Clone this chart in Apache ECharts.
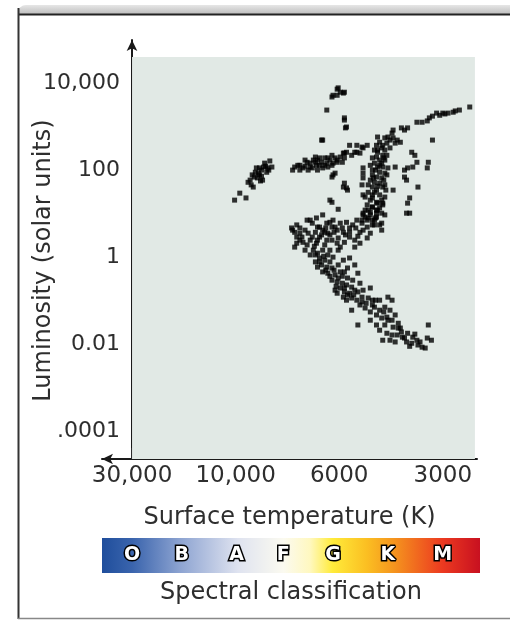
<!DOCTYPE html>
<html>
<head>
<meta charset="utf-8">
<title>Hertzsprung-Russell diagram</title>
<script src="https://cdn.jsdelivr.net/npm/echarts@6/dist/echarts.min.js"></script>
<style>
  html, body { margin: 0; padding: 0; background: #fff; }
  #chart { width: 510px; height: 623px; }
</style>
</head>
<body>
<div id="chart"></div>
<script>
// x = position on the drawing's temperature scale (0 = 30,000 K, 1 = 10,000 K, 2 = 6000 K, 3 = 3000 K)
// y = log10 of luminosity (solar units)
const tempTicks = [0, 1, 2, 3]
const tempLabels = ['30,000', '10,000', '6000', '3000']
const lumTicks = [-4, -2, 0, 2, 4]
const lumLabels = ['.0001', '0.01', '1', '100', '10,000']
const spectralClasses = ['O', 'B', 'A', 'F', 'G', 'K', 'M']
const spectralPos = [0, 0.48, 1.01, 1.46, 1.94, 2.47, 3.0]

const supergiants = [
  [1.93, 3.68], [1.94, 3.72], [1.98, 3.72], [1.99, 3.89], [2.01, 3.79], [2.04, 3.77],
  [2.05, 3.79], [1.98, 3.86], [1.88, 3.38], [2.05, 3.20], [2.06, 2.97], [1.84, 2.69]
]

const brightGiants = [
  [3.26, 3.45], [3.16, 3.38], [3.10, 3.33], [3.05, 3.31], [3.00, 3.31], [2.97, 3.26],
  [2.94, 3.31], [2.90, 3.24], [2.87, 3.20], [2.85, 3.13], [2.80, 3.10], [2.75, 3.10],
  [2.66, 2.97], [2.63, 2.92], [2.60, 2.97], [2.52, 2.92], [2.51, 2.85], [2.90, 2.69],
  [3.12, 3.36], [3.02, 3.29]
]

const hotStars = [
  [0.99, 1.31], [1.04, 1.47], [1.10, 1.36], [1.12, 1.72], [1.15, 1.66], [1.17, 1.61],
  [1.16, 1.89], [1.19, 1.95], [1.22, 1.93], [1.21, 1.82], [1.23, 1.89], [1.25, 2.00],
  [1.23, 2.05], [1.27, 2.07], [1.30, 1.95], [1.31, 2.05], [1.33, 2.21], [1.35, 2.07],
  [1.28, 2.16], [1.24, 1.75], [1.26, 1.77], [1.18, 1.84], [1.20, 2.05], [1.25, 1.86],
  [1.14, 1.77], [1.29, 2.09], [1.32, 2.00]
]

const horizontalBranch = [
  [1.57, 2.07], [1.62, 2.00], [1.65, 2.05], [1.69, 2.18], [1.72, 2.16], [1.74, 2.05],
  [1.77, 2.30], [1.78, 2.11], [1.79, 2.23], [1.83, 2.18], [1.84, 2.05], [1.88, 2.16],
  [1.89, 2.28], [1.91, 2.23], [1.93, 2.34], [1.94, 2.16], [1.96, 1.93], [1.98, 2.23],
  [2.01, 2.30], [2.03, 2.18], [2.04, 2.39], [2.07, 2.41], [2.10, 2.57], [2.12, 2.34],
  [2.17, 2.41], [2.20, 2.39], [2.22, 2.53], [1.83, 2.69], [2.07, 2.99], [2.05, 3.15],
  [1.91, 1.31], [1.99, 1.10], [2.05, 1.70], [2.07, 1.59], [1.93, 1.84], [1.94, 1.89],
  [2.15, 2.41], [2.23, 2.51], [2.27, 2.57], [2.05, 2.39], [1.98, 2.18], [1.93, 2.11],
  [2.23, 2.05], [2.23, 1.93], [2.22, 1.66], [2.23, 1.43], [1.60, 2.11], [1.67, 2.09],
  [1.75, 2.23], [1.81, 2.11], [1.86, 2.28], [1.70, 2.00], [1.55, 2.00], [1.89, 2.07],
  [1.79, 2.00], [2.17, 2.57], [1.62, 2.11], [1.72, 2.07], [1.77, 2.18], [1.86, 2.11],
  [1.96, 2.28], [2.05, 2.28], [1.67, 2.23], [1.81, 2.28]
]

const redGiants = [
  [2.44, 2.74], [2.47, 2.76], [2.52, 2.74], [2.56, 2.69], [2.59, 2.64], [2.39, 2.64],
  [2.36, 2.57], [2.42, 2.57], [2.46, 2.62], [2.41, 2.51], [2.37, 2.41], [2.44, 2.46],
  [2.42, 2.34], [2.36, 2.30], [2.39, 2.23], [2.44, 2.23], [2.34, 2.16], [2.37, 2.07],
  [2.42, 2.07], [2.47, 2.05], [2.32, 2.00], [2.39, 1.95], [2.44, 1.93], [2.32, 1.89],
  [2.36, 1.84], [2.41, 1.82], [2.30, 1.77], [2.34, 1.72], [2.39, 1.70], [2.42, 1.61],
  [2.32, 1.61], [2.36, 1.54], [2.28, 1.49], [2.32, 1.43], [2.39, 1.43], [2.44, 1.38],
  [2.30, 1.31], [2.36, 1.26], [2.27, 1.20], [2.32, 1.15], [2.39, 1.13], [2.30, 1.03],
  [2.23, 1.01], [2.36, 1.01], [2.28, 0.90], [2.22, 0.85], [2.32, 0.85], [2.41, 0.78],
  [2.49, 2.69], [2.54, 2.62], [2.34, 2.46], [2.46, 2.34], [2.32, 2.28], [2.41, 2.16],
  [2.30, 2.11], [2.46, 1.89], [2.28, 1.66], [2.44, 1.66], [2.34, 1.49], [2.25, 1.38],
  [2.42, 1.24], [2.37, 1.08], [2.25, 1.08], [2.34, 0.74], [2.44, 0.97], [2.49, 2.51],
  [2.37, 2.76], [2.37, 2.46], [2.43, 2.28], [2.35, 2.00], [2.43, 1.77], [2.37, 1.63],
  [2.32, 1.36], [2.41, 1.31], [2.35, 0.90], [2.28, 1.08], [2.45, 1.54], [2.39, 2.11],
  [2.33, 1.82]
]

const coolGiants = [
  [2.70, 2.41], [2.73, 2.34], [2.75, 2.18], [2.66, 2.05], [2.65, 1.77], [2.86, 2.18],
  [2.85, 2.05], [2.76, 1.61], [2.68, 1.36], [2.66, 1.24], [2.68, 1.01], [2.54, 2.07],
  [2.52, 1.54], [2.63, 2.00], [2.71, 2.07], [2.63, 1.84], [2.65, 1.01]
]

const mainSequence = [
  [1.54, 0.67], [1.57, 0.57], [1.59, 0.32], [1.57, 0.23], [1.64, 0.46], [1.65, 0.34],
  [1.69, 0.28], [1.70, 0.55], [1.74, 0.46], [1.72, 0.85], [1.78, 0.90], [1.77, 0.57],
  [1.79, 0.69], [1.81, 0.46], [1.84, 0.62], [1.88, 0.78], [1.89, 0.55], [1.93, 0.69],
  [1.94, 0.85], [1.98, 0.62], [2.01, 0.78], [2.04, 0.57], [2.07, 0.80], [2.10, 0.67],
  [2.13, 0.74], [2.17, 0.85], [2.20, 0.57], [2.22, 0.78], [2.25, 0.92], [2.27, 0.69],
  [2.30, 0.97], [2.32, 1.15], [2.36, 1.08], [2.39, 0.74], [2.34, 0.85], [2.37, 1.24],
  [2.42, 1.20], [2.41, 1.01], [1.93, 1.26], [1.55, 0.62], [1.59, 0.74], [1.62, 0.55],
  [1.69, 0.85], [1.74, 0.78], [1.81, 0.69], [1.86, 0.57], [1.91, 0.80], [1.96, 0.69],
  [2.23, 0.97], [2.36, 0.92], [2.41, 0.62], [1.84, 0.97], [2.04, 1.61], [2.08, 1.54],
  [2.23, 1.82],
  [2.05, 0.34], [2.10, 0.46], [2.15, 0.39], [1.98, 0.32], [1.93, 0.39], [1.86, 0.28],
  [1.78, 0.32], [1.75, 0.16], [1.79, 0.09], [1.84, 0.16], [1.81, -0.02], [1.86, -0.07],
  [1.89, 0.05], [1.94, 0.00], [1.83, -0.18], [1.88, -0.23], [1.93, -0.25], [1.84, -0.34],
  [1.89, -0.37], [1.96, -0.41], [2.01, -0.34], [2.05, -0.34], [2.10, -0.02], [2.18, -0.37],
  [2.08, -0.48], [2.13, -0.53], [1.93, -0.53], [1.98, -0.57], [2.03, -0.60], [2.07, -0.64],
  [2.12, -0.69], [2.01, -0.71], [2.05, -0.80], [2.10, -0.83], [2.15, -0.76], [1.98, -0.83],
  [2.30, -0.71], [2.12, -0.94], [2.07, -0.99], [2.17, -0.99], [2.22, -0.92], [2.12, -1.22],
  [2.20, -1.10], [2.25, -1.17], [2.30, -1.26], [2.34, -1.15], [2.39, -0.99], [2.47, -0.92],
  [2.44, -1.15], [2.49, -1.22], [2.36, -1.33], [2.41, -1.40], [2.46, -1.38], [2.51, -1.45],
  [2.30, -1.45], [2.18, -1.56], [2.36, -1.56], [2.44, -1.56], [2.52, -1.61], [2.57, -1.52],
  [2.60, -1.72], [2.56, -1.79], [2.46, -1.75], [2.42, -1.91], [2.49, -1.91], [2.54, -1.95],
  [2.61, -1.84], [2.66, -1.75], [2.71, -1.84], [2.75, -1.91], [2.65, -1.95], [2.70, -1.98],
  [2.80, -2.07], [2.85, -1.86], [2.86, -1.56], [2.89, -1.91], [2.01, 0.23], [2.15, 0.23],
  [2.20, 0.32], [2.27, 0.44], [2.30, 0.55], [1.77, -0.11], [1.91, -0.11], [1.79, -0.23],
  [1.99, -0.18], [1.96, -0.76], [2.04, -0.92], [2.20, -0.60], [2.23, -0.76], [2.28, -0.94],
  [2.08, -0.25], [2.04, -0.07], [1.72, 0.05], [1.67, 0.16], [1.62, 0.39], [1.59, 0.46],
  [1.88, 0.39], [1.99, 0.16], [2.15, -0.18], [2.32, -0.99], [2.39, -1.22], [2.54, -1.33],
  [2.59, -1.63], [2.76, -2.02], [2.83, -2.09], [2.51, -0.99],
  [1.62, 0.67], [1.67, 0.62], [1.72, 0.39], [1.76, 0.25], [1.79, 0.39], [1.83, 0.51],
  [1.87, 0.67], [1.91, 0.51], [1.95, 0.57], [1.99, 0.44], [2.03, 0.67], [2.06, 0.51],
  [2.10, 0.57], [2.16, 0.67], [2.18, 0.48], [2.23, 0.62], [2.27, 0.85], [2.32, 0.74],
  [1.77, 0.05], [1.81, -0.11], [1.85, 0.02], [1.91, 0.16], [1.87, -0.30], [1.91, -0.44],
  [1.95, -0.30], [1.99, -0.48], [2.03, -0.44], [1.97, -0.67], [2.05, -0.71], [2.08, -0.87],
  [2.14, -0.87], [2.18, -0.80], [2.22, -1.03], [2.26, -1.06], [2.32, -1.10], [2.35, -0.99],
  [2.43, -1.26], [2.47, -1.45], [2.39, -1.68], [2.51, -1.79], [2.57, -1.63], [2.63, -1.86],
  [2.68, -2.05], [2.78, -1.95], [2.73, -1.77]
]

const groups = { supergiants, brightGiants, hotStars, horizontalBranch, redGiants, coolGiants, mainSequence }

const ink = '#2e2e2e'
const font = 'DejaVu Sans'

const chart = echarts.init(document.getElementById('chart'))

function starSeries(name, data) {
  return {
    name,
    type: 'scatter',
    data,
    symbol: 'rect',
    symbolSize: 5,
    itemStyle: { color: '#000' },
    silent: true
  }
}

const option = {
  animation: false,
  grid: {
    left: 102, right: 33, top: 40, bottom: 164,
    show: false, containLabel: false, outerBoundsMode: 'none'
  },
  xAxis: {
    type: 'value',
    min: -0.29,
    max: 3.33,
    name: 'Surface temperature (K)',
    nameLocation: 'middle',
    nameGap: 47,
    nameTextStyle: { color: ink, fontFamily: font, fontSize: 24 },
    splitLine: { show: false },
    axisLine: {
      onZero: false,
      symbol: ['arrow', 'none'],
      symbolSize: [8, 11],
      lineStyle: { color: '#1a1a1a', width: 2 }
    },
    axisTick: {
      inside: true,
      length: 11,
      customValues: tempTicks,
      lineStyle: { color: '#333', width: 1.5 }
    },
    axisLabel: {
      customValues: tempTicks,
      margin: 6,
      color: ink,
      fontFamily: font,
      fontSize: 23,
      formatter: (v) => tempLabels[tempTicks.indexOf(v)]
    }
  },
  yAxis: {
    type: 'value',
    min: -4.64,
    max: 4.99,
    // the vertical axis sits on the 30,000 K mark, 30px inside the grid edge
    offset: -30,
    name: 'Luminosity (solar units)',
    nameLocation: 'middle',
    nameRotate: 90,
    nameGap: 76,
    nameMoveOverlap: false,
    nameTextStyle: { color: ink, fontFamily: font, fontSize: 24, padding: [0, 22, 0, 0] },
    splitLine: { show: false },
    axisLine: {
      onZero: false,
      symbol: ['none', 'arrow'],
      symbolSize: [8, 11],
      lineStyle: { color: '#1a1a1a', width: 2 }
    },
    axisTick: {
      inside: true,
      length: 9,
      customValues: lumTicks,
      lineStyle: { color: '#333', width: 1.5 }
    },
    axisLabel: {
      customValues: lumTicks,
      margin: 12,
      color: ink,
      fontFamily: font,
      fontSize: 22,
      formatter: (v) => lumLabels[lumTicks.indexOf(v)]
    }
  },
  series: [
    {
      name: 'plot area',
      type: 'scatter',
      data: [],
      silent: true,
      markArea: {
        silent: true,
        itemStyle: { color: '#e1e9e5' },
        data: [[{ coord: [0, -4.64] }, { coord: [3.31, 4.6] }]]
      }
    },
    ...Object.entries(groups).map(([name, data]) => starSeries(name, data))
  ]
}

chart.setOption(option)

// frame, spectral-class strip and its caption
const barTop = 538
const barBottom = 573
const barLeft = 102
const barRight = 480
const letterY = (barTop + barBottom) / 2

const letters = spectralClasses.map((c, i) => ({
  type: 'text',
  x: chart.convertToPixel({ xAxisIndex: 0 }, spectralPos[i]),
  y: letterY,
  z: 12,
  style: {
    text: c,
    fill: '#fff',
    stroke: '#000',
    lineWidth: 3,
    font: 'bold 19px "DejaVu Sans"',
    align: 'center',
    verticalAlign: 'middle'
  }
}))

chart.setOption({
  graphic: [
    {
      type: 'rect',
      shape: { x: 18, y: 5, width: 492, height: 10, r: [8, 0, 0, 0] },
      style: {
        fill: new echarts.graphic.LinearGradient(0, 0, 0, 1, [
          { offset: 0, color: '#e6e6e6' },
          { offset: 1, color: '#b9b9b9' }
        ])
      }
    },
    { type: 'line', shape: { x1: 18, y1: 14.5, x2: 510, y2: 14.5 }, style: { stroke: '#222', lineWidth: 2 } },
    { type: 'line', shape: { x1: 18.5, y1: 8, x2: 18.5, y2: 619 }, style: { stroke: '#333', lineWidth: 2 } },
    { type: 'line', shape: { x1: 18, y1: 618.5, x2: 510, y2: 618.5 }, style: { stroke: '#888', lineWidth: 1.5 } },
    {
      type: 'rect',
      z: 10,
      shape: { x: barLeft, y: barTop, width: barRight - barLeft, height: barBottom - barTop },
      style: {
        fill: new echarts.graphic.LinearGradient(0, 0, 1, 0, [
          { offset: 0, color: '#1f4e9c' },
          { offset: 0.08, color: '#3a64ad' },
          { offset: 0.21, color: '#8fa5d2' },
          { offset: 0.36, color: '#dfe3f0' },
          { offset: 0.48, color: '#fbfaf0' },
          { offset: 0.55, color: '#fff8c0' },
          { offset: 0.61, color: '#ffeb3a' },
          { offset: 0.70, color: '#fbbf22' },
          { offset: 0.77, color: '#f5961e' },
          { offset: 0.90, color: '#ec3a20' },
          { offset: 1, color: '#c81020' }
        ])
      }
    },
    ...letters,
    {
      type: 'text',
      x: (barLeft + barRight) / 2,
      y: 593,
      style: {
        text: 'Spectral classification',
        fill: ink,
        font: '24px "DejaVu Sans"',
        align: 'center',
        verticalAlign: 'middle'
      }
    }
  ]
})
</script>
</body>
</html>
